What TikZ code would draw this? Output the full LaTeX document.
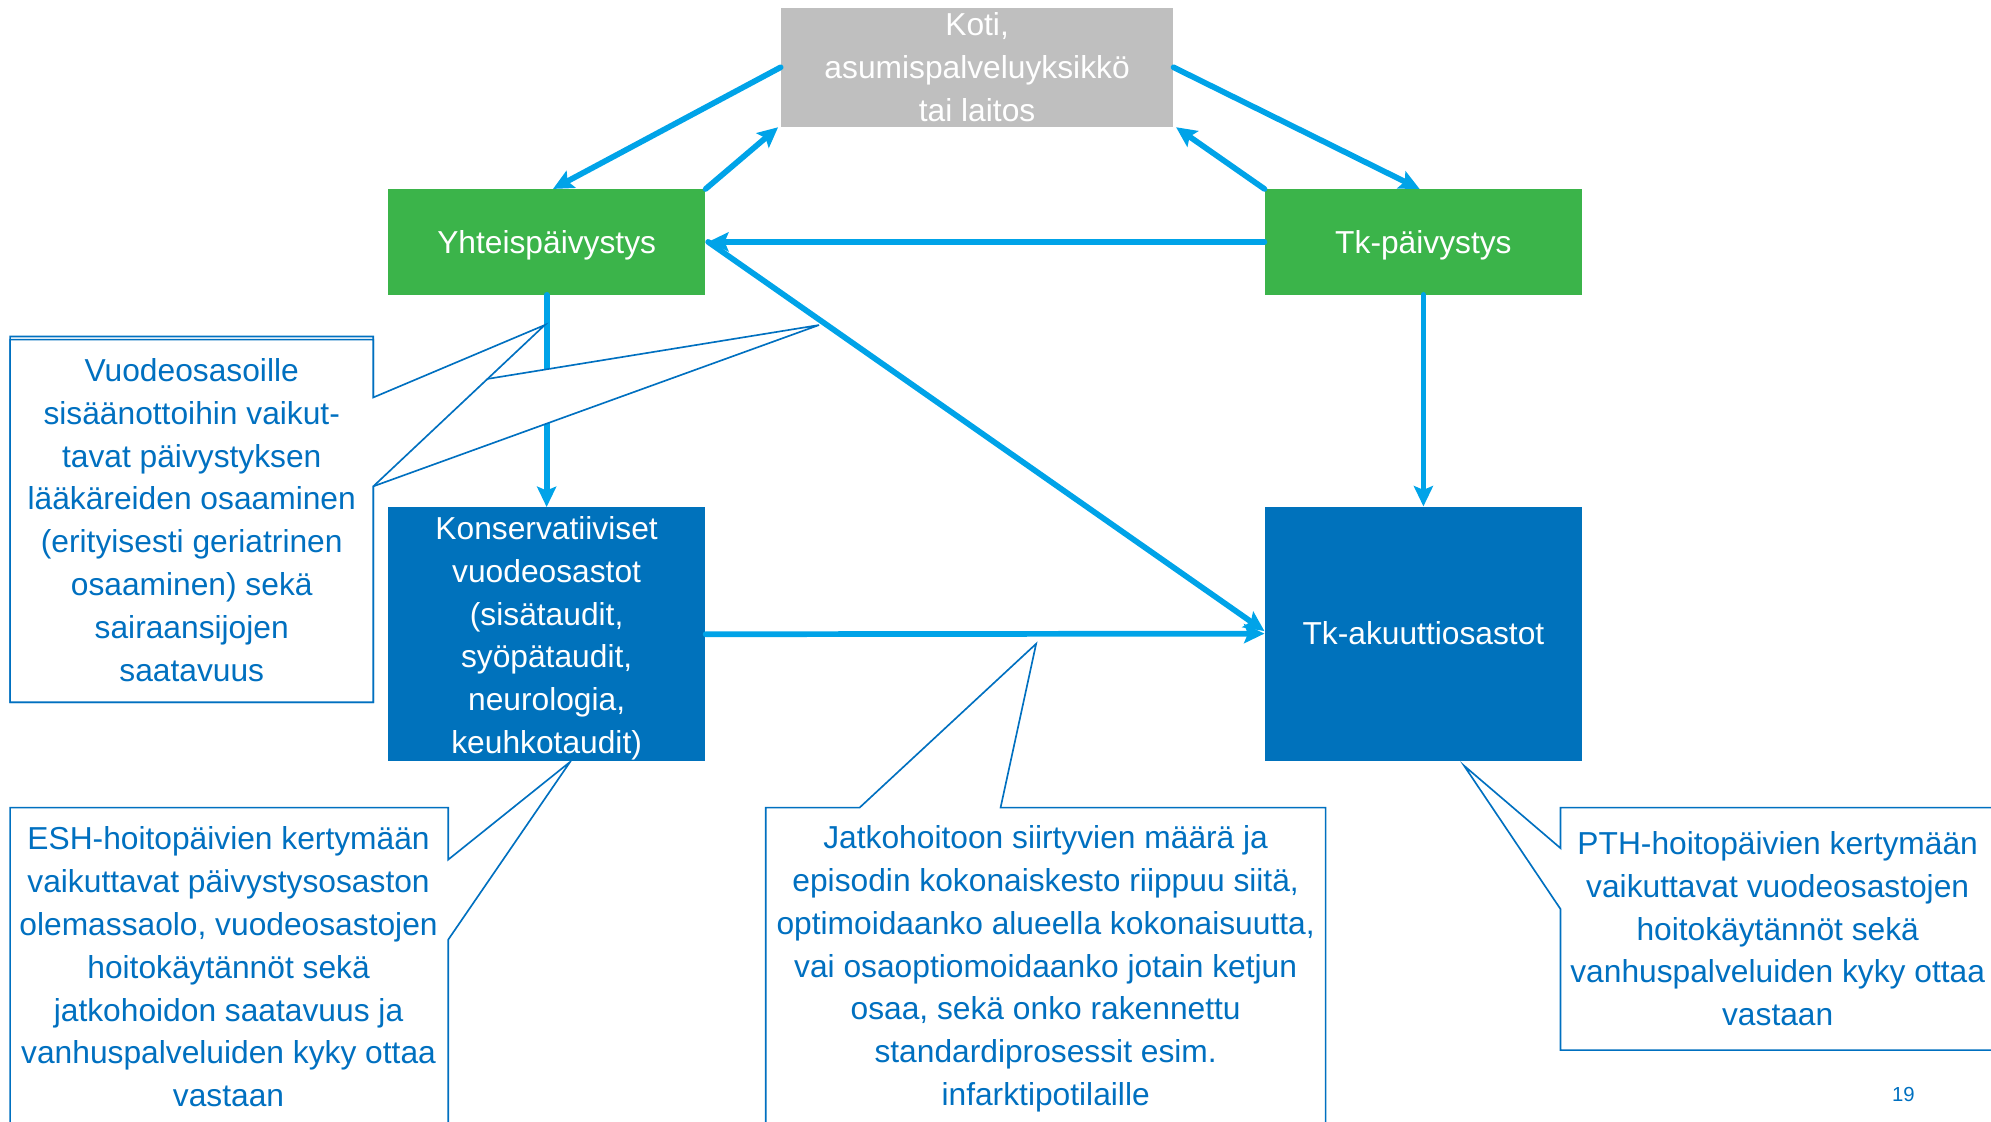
\documentclass[tikz,border=0pt]{standalone}
\usepackage{fontspec}
\setmainfont{Liberation Sans}
\usepackage{tikz}
\usetikzlibrary{arrows.meta}
\usetikzlibrary{positioning}
\definecolor{homegray}{RGB}{191,191,191}
\definecolor{dutygreen}{RGB}{59,180,74}
\definecolor{wardblue}{RGB}{0,114,188}
\definecolor{linkblue}{RGB}{0,163,232}
\definecolor{noteblue}{RGB}{0,112,192}

\begin{document}
\begin{tikzpicture}[x = 1pt, y = -1pt, on grid, font = \fontsize{25}{33.7}\selectfont, home/.style = {rectangle, fill = homegray, text = white, inner sep = 0pt, minimum width = 309pt, minimum height = 94pt, align = center}, duty/.style = {rectangle, fill = dutygreen, text = white, inner sep = 0pt, minimum width = 250pt, minimum height = 83pt, text height = 22pt, text depth = 4pt}, ward/.style = {rectangle, fill = wardblue, text = white, inner sep = 0pt, minimum width = 250pt, minimum height = 200pt, align = center}, link/.style = {draw = linkblue, line width = 4.5pt, line cap = round, -{Stealth[length = 16pt, width = 15pt, inset = 3pt]}}, note/.style = {draw = noteblue, fill = white, line width = 1.3pt}, notetext/.style = {text = noteblue, align = center}]
	\useasboundingbox (0,0) rectangle (1568,883);
	\clip (0,0) rectangle (1568,883);
	\node[home] (A) at (769.5,53) {Koti,\\asumispalveluyksikkö\\tai laitos};
	\node[duty] (B) [below left = 137.5pt and 339pt of A] {Yhteispäivystys};
	\node[duty] (C) [below right = 137.5pt and 351.5pt of A] {Tk-päivystys};
	\node[ward] (D) [below = 309pt of B] {\rule{0pt}{24.5pt}Konservatiiviset\\vuodeosastot\\(sisätaudit,\\syöpätaudit,\\neurologia,\\keuhkotaudit)};
	\node[ward] (E) [below = 308.5pt of C] {Tk-akuuttiosastot};
	\draw[link] (A.west) -- ([xshift = 5pt]B.north);
	\draw[link] (B.north east) -- ([xshift = -2pt]A.south west);
	\draw[link] (A.east) -- ([xshift = -3pt]C.north);
	\draw[link] (C.north west) -- ([xshift = 2pt]A.south east);
	\draw[link] (C.west) -- ([xshift = 2pt]B.east);
	\draw[link] ([xshift = 2pt]B.east) -- ([yshift = 2pt]E.west);
	\draw[link] (B.south) -- (D.north);
	\draw[link] (C.south) -- (E.north);
	\draw[link] (D.east) -- (E.west);
	\coordinate (T1) at (429,256);
	\coordinate (T2) at (645,256);
	\coordinate (T3) at (449,600);
	\coordinate (T4) at (816,507);
	\coordinate (T5) at (1153,603);
	\draw[note] (8,265) -- (294,265) -- (294,313) -- (T2) -- (294,383) -- (294,553) -- (8,553) -- cycle;
	\draw[note] (8,267.5) -- (294,267.5) -- (294,313) -- (T1) -- (294,383) -- (294,553) -- (8,553) -- cycle;
	\draw[note] (8,636) -- (353,636) -- (353,677) -- (T3) -- (353,740) -- (353,895) -- (8,895) -- cycle;
	\draw[note] (603,636) -- (677,636) -- (T4) -- (788,636) -- (1044,636) -- (1044,895) -- (603,895) -- cycle;
	\draw[note] (1229,636) -- (1580,636) -- (1580,827) -- (1229,827) -- (1229,716) -- (T5) -- (1229,668) -- cycle;
	\node[notetext] (N1) at (151,409.5) {Vuodeosasoille\\sisäänottoihin vaikut-\\tavat päivystyksen\\lääkäreiden osaaminen\\(erityisesti geriatrinen\\osaaminen) sekä\\sairaansijojen\\saatavuus};
	\node[notetext] (N2) at (180,761.5) {ESH-hoitopäivien kertymään\\vaikuttavat päivystysosaston\\olemassaolo, vuodeosastojen\\hoitokäytännöt sekä\\jatkohoidon saatavuus ja\\vanhuspalveluiden kyky ottaa\\vastaan};
	\node[notetext] (N3) at (823.5,763) {Jatkohoitoon siirtyvien määrä ja\\episodin kokonaiskesto riippuu siitä,\\optimoidaanko alueella kokonaisuutta,\\vai osaoptiomoidaanko jotain ketjun\\osaa, sekä onko rakennettu\\standardiprosessit esim.\\infarktipotilaille};
	\node[notetext] (N4) at (1400,731.5) {PTH-hoitopäivien kertymään\\vaikuttavat vuodeosastojen\\hoitokäytännöt sekä\\vanhuspalveluiden kyky ottaa\\vastaan};
	\node[text = noteblue, font = \fontsize{16}{19}\selectfont] (P) at (1499,862) {19};
\end{tikzpicture}
\end{document}
